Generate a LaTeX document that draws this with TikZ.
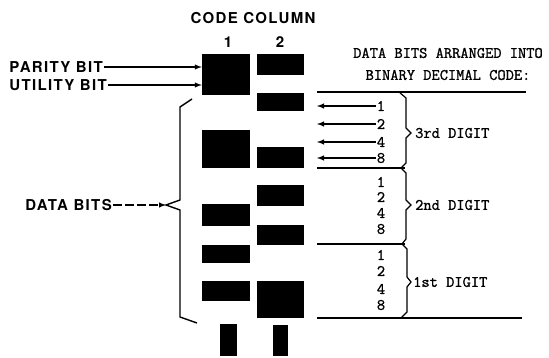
\documentclass[tikz,border=0pt]{standalone}
\usepackage{fontspec}
\setmainfont{TeX Gyre Heros}
\newfontfamily\lblfont[LetterSpace=9]{TeX Gyre Heros}
\newfontfamily\typefont[FakeBold=1.2]{Latin Modern Mono}
\usepackage{tikz}
\usetikzlibrary{positioning,calc}

\tikzset{
  hole/.style={rectangle,fill=black,inner sep=0pt},
  lbl/.style={font=\lblfont\bfseries\fontsize{15}{18}\selectfont,inner sep=1pt},
  typed/.style={font=\typefont\fontsize{16}{22}\selectfont,inner sep=1pt},
  bitarrow/.style={-latex,line width=1.4pt},
  rule/.style={line width=1.4pt}
}

\begin{document}
\begin{tikzpicture}[x=1pt,y=-1pt]
    \useasboundingbox (0,0) rectangle (549,358);

    % headings
    \node[lbl] (title) at (253,18) {CODE COLUMN};
    \node[lbl] (col1) at (228,42) {1};
    \node[lbl] (col2) at (280,42) {2};
    \node[typed,align=center] (head) at (448,64) {DATA BITS ARRANGED INTO\\BINARY DECIMAL CODE:};

    % code column 1
    \node[hole,minimum width=48pt,minimum height=41pt] (c1a) at (226,74.5) {};
    \node[hole,minimum width=48pt,minimum height=38pt] (c1b) at (226,149) {};
    \node[hole,minimum width=48pt,minimum height=22pt] (c1c) at (226,215) {};
    \node[hole,minimum width=48pt,minimum height=18pt] (c1d) at (226,254) {};
    \node[hole,minimum width=48pt,minimum height=20pt] (c1e) at (226,291) {};
    \node[hole,minimum width=17pt,minimum height=32pt] (c1f) at (228.5,340) {};

    % code column 2
    \node[hole,minimum width=47pt,minimum height=21pt] (c2a) at (280.5,64.5) {};
    \node[hole,minimum width=47pt,minimum height=18pt] (c2b) at (280.5,102) {};
    \node[hole,minimum width=47pt,minimum height=21pt] (c2c) at (280.5,157.5) {};
    \node[hole,minimum width=47pt,minimum height=21pt] (c2d) at (280.5,195.5) {};
    \node[hole,minimum width=47pt,minimum height=20pt] (c2e) at (280.5,235) {};
    \node[hole,minimum width=47pt,minimum height=37pt] (c2f) at (280.5,299.5) {};
    \node[hole,minimum width=15pt,minimum height=31pt] (c2g) at (280.5,340.5) {};

    % parity and utility bits
    \node[lbl,anchor=east] (parity) at (104,67) {PARITY BIT};
    \node[lbl,anchor=east] (utility) at (108,85) {UTILITY BIT};
    \draw[bitarrow] (parity.east) -- (parity.east -| c1a.west);
    \draw[bitarrow] (utility.east) -- (utility.east -| c1a.west);

    % data bits bracket
    \coordinate (bk) at (166,205);
    \draw[line width=1.4pt] (192,99) -- (180,107) -- (180,200) -- (bk) -- (180,210) -- (180,317) -- (197,323);
    \node[lbl,anchor=east] (data) at (113,205) {DATA BITS};
    \draw[bitarrow,dash pattern=on 9pt off 3pt] (data.east) -- (bk);

    % rules between digits
    \coordinate (r3l) at (317,92);
    \draw[rule] (r3l) -- (526,92);
    \draw[rule] (317,168) -- (405,168);
    \draw[rule] (317,244) -- (405,244);
    \draw[rule] (317,318) -- (522,318);

    % 3rd digit
    \node[typed] (d31) at (381,106) {1};
    \node[typed] (d32) at (381,124) {2};
    \node[typed] (d34) at (381,142) {4};
    \node[typed] (d38) at (381,158) {8};
    \foreach \n in {d31,d32,d34,d38}
        \draw[bitarrow] (\n.west) -- (\n.west -| r3l);
    \draw[line width=1.2pt] (399,92) -- (406,98) -- (406,128) -- (411,133) -- (406,138) -- (406,163) -- (401,168);
    \node[typed,anchor=west] (third) at (414,133) {3rd DIGIT};

    % 2nd digit
    \node[typed] (d21) at (381,182) {1};
    \node[typed] (d22) at (381,197) {2};
    \node[typed] (d24) at (381,213) {4};
    \node[typed] (d28) at (381,229) {8};
    \draw[line width=1.2pt] (401,168) -- (406,173) -- (406,200) -- (411,205) -- (406,210) -- (406,239) -- (402,244);
    \node[typed,anchor=west] (second) at (414,205) {2nd DIGIT};

    % 1st digit
    \node[typed] (d11) at (381,255) {1};
    \node[typed] (d12) at (381,271) {2};
    \node[typed] (d14) at (381,289) {4};
    \node[typed] (d18) at (381,305) {8};
    \draw[line width=1.2pt] (402,244) -- (407,249) -- (407,277) -- (411,282) -- (407,287) -- (407,312) -- (401,318);
    \node[typed,anchor=west] (first) at (412,282) {1st DIGIT};
\end{tikzpicture}
\end{document}
